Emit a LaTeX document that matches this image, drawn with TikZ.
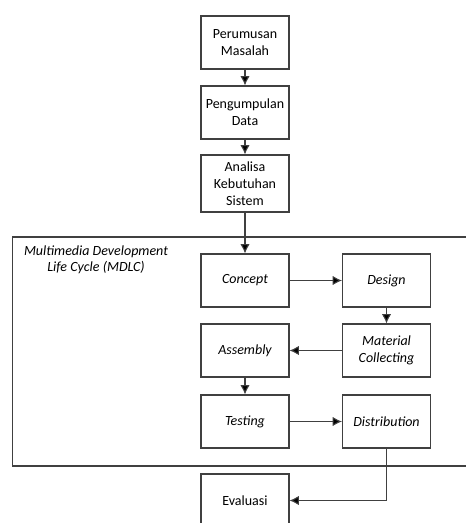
\documentclass[tikz,border=0pt]{standalone}
\usepackage{fontspec}
\setmainfont{Carlito}
\usetikzlibrary{arrows.meta}

\begin{document}
\begin{tikzpicture}[x=0.75pt, y=-0.75pt,
    box/.style={draw=black!75, line width=0.8pt, minimum width=66pt, minimum height=39.75pt,
        align=center, inner sep=2pt, font=\fontsize{10.5}{12.8}\selectfont},
    arr/.style={draw=black!75, line width=0.8pt, -{Latex[length=7pt, width=7pt, fill=black]}}]
    \useasboundingbox (0,0) rectangle (465,523);

    % MDLC frame
    \draw[black!75, line width=0.8pt] (12.5,237) rectangle (475,466);
    \node[align=center, font=\fontsize{10.5}{12.3}\selectfont\itshape] (mdlc) at (96,260)
        {Multimedia Development\\Life Cycle (MDLC)};

    % Boxes
    \node[box] (perumusan) at (245,42.5) {Perumusan\\Masalah};
    \node[box] (pengumpulan) at (245,112.5) {Pengumpulan\\Data};
    \node[box, minimum height=42.75pt] (analisa) at (245,183.5) {Analisa\\Kebutuhan\\Sistem};
    \node[box, font=\fontsize{10.5}{12.8}\selectfont\itshape] (concept) at (245,280.5) {Concept};
    \node[box, font=\fontsize{10.5}{12.8}\selectfont\itshape] (design) at (386.5,280.5) {Design};
    \node[box, font=\fontsize{10.5}{12.8}\selectfont\itshape] (material) at (386.5,350.5) {Material\\Collecting};
    \node[box, font=\fontsize{10.5}{12.8}\selectfont\itshape] (assembly) at (245,350.5) {Assembly};
    \node[box, font=\fontsize{10.5}{12.8}\selectfont\itshape] (testing) at (245,421.5) {Testing};
    \node[box, font=\fontsize{10.5}{12.8}\selectfont\itshape] (distribution) at (386.5,421.5) {Distribution};
    \node[box] (evaluasi) at (245,500.5) {Evaluasi};

    % Arrows
    \draw[arr] (perumusan) -- (pengumpulan);
    \draw[arr] (pengumpulan) -- (analisa);
    \draw[arr] (analisa) -- (concept);
    \draw[arr] (concept) -- (design);
    \draw[arr] (design) -- (material);
    \draw[arr] (material) -- (assembly);
    \draw[arr] (assembly) -- (testing);
    \draw[arr] (testing) -- (distribution);
    \draw[arr] (distribution.south) |- (evaluasi.east);
\end{tikzpicture}
\end{document}
